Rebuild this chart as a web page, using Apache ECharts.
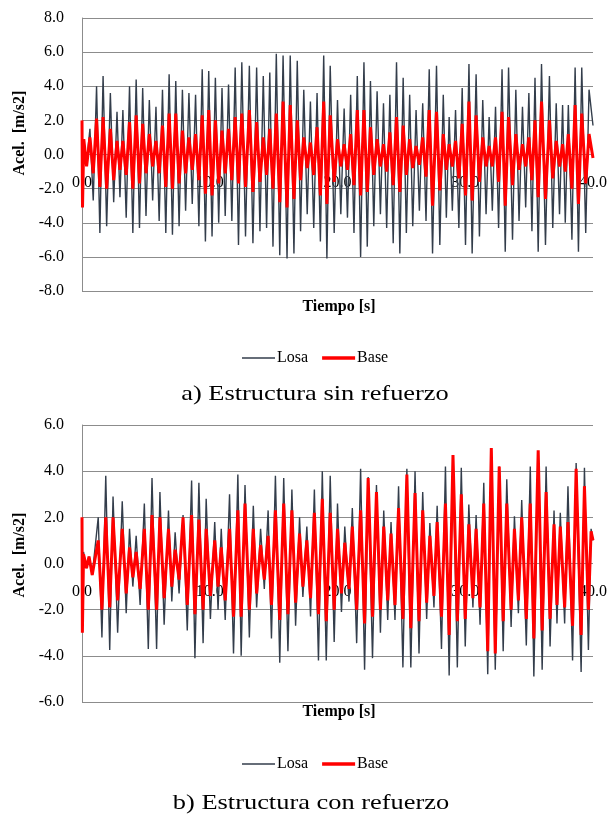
<!DOCTYPE html>
<html><head><meta charset="utf-8">
<script src="https://cdn.jsdelivr.net/npm/echarts@6/dist/echarts.min.js"></script>
<style>html,body{margin:0;padding:0;background:#fff}#c{width:610px;height:816px}</style>
</head><body><div id="c"></div>
<script>
// ---- Chart a) Estructura sin refuerzo : extremum times [s] and accelerations [m/s2]
const tA = [
0.00,0.04,0.14,0.36,0.62,0.88,1.14,1.40,1.65,1.93,
2.22,2.48,2.74,2.97,3.20,3.46,3.72,3.98,4.24,4.50,
4.75,5.01,5.27,5.53,5.79,6.04,6.30,6.56,6.82,7.08,
7.34,7.60,7.86,8.11,8.37,8.63,8.89,9.15,9.41,9.66,
9.92,10.18,10.44,10.70,10.96,11.21,11.47,11.73,11.99,12.25,
12.51,12.80,13.10,13.38,13.67,13.93,14.19,14.45,14.70,14.95,
15.21,15.48,15.74,16.05,16.30,16.59,16.85,17.11,17.36,17.63,
17.88,18.14,18.40,18.66,18.92,19.17,19.43,19.74,20.00,20.26,
20.52,20.78,21.03,21.29,21.55,21.81,22.07,22.33,22.58,22.84,
23.10,23.36,23.60,23.85,24.10,24.36,24.62,24.88,25.14,25.39,
25.65,25.89,26.15,26.41,26.67,26.93,27.18,27.44,27.75,28.01,
28.28,28.52,28.74,28.99,29.24,29.50,29.76,30.02,30.29,30.54,
30.85,31.11,31.37,31.63,31.87,32.12,32.37,32.61,32.88,33.13,
33.39,33.70,33.96,34.21,34.48,34.73,34.98,35.22,35.46,35.71,
35.97,36.28,36.59,36.85,37.12,37.38,37.62,37.83,38.07,38.35,
38.60,38.86,39.12,39.43,39.69,40.00];
const losaA = [
0.0,-0.2,0.3,-0.5,1.5,-2.7,4.0,-4.6,4.6,-4.2,
3.6,-2.8,2.5,-2.5,2.6,-3.7,4.0,-4.6,4.4,-4.3,
3.9,-3.6,3.2,-2.7,2.8,-3.9,3.8,-4.6,4.7,-4.7,
4.3,-4.2,3.8,-3.3,3.6,-2.9,3.5,-4.2,5.0,-5.1,
4.9,-4.8,4.5,-4.0,3.9,-3.6,4.1,-3.9,5.1,-5.3,
5.4,-4.8,5.2,-5.2,5.1,-4.5,4.6,-4.3,4.8,-5.4,
5.9,-5.9,5.8,-6.1,5.8,-5.8,5.5,-4.5,3.8,-3.5,
3.1,-4.3,3.6,-5.1,5.8,-6.1,5.2,-4.6,3.2,-3.5,
2.7,-3.7,3.5,-4.6,4.6,-6.0,5.4,-5.4,4.3,-4.2,
3.7,-3.5,3.0,-4.3,3.5,-5.2,5.4,-5.8,4.5,-4.6,
3.5,-4.2,2.6,-3.3,3.0,-3.9,5.0,-5.8,5.2,-5.3,
3.5,-3.7,2.2,-3.3,2.6,-4.3,3.9,-5.3,5.3,-5.8,
4.7,-4.8,3.2,-3.5,2.2,-3.3,2.8,-4.3,5.0,-5.7,
5.1,-5.0,3.8,-3.9,2.8,-3.1,3.6,-4.5,4.5,-5.7,
5.3,-5.3,4.6,-4.3,3.0,-3.5,2.9,-4.0,2.9,-5.0,
5.1,-5.7,5.1,-4.6,3.8,1.7];
const baseA = [
2.0,-3.1,0.9,-0.7,1.0,-1.1,2.1,-1.9,2.2,-2.0,
1.5,-1.5,0.8,-0.9,0.8,-1.2,1.9,-2.0,2.3,-1.7,
1.8,-1.1,1.2,-0.7,0.8,-1.1,1.7,-1.9,2.4,-2.0,
2.4,-1.7,1.4,-1.1,1.0,-0.9,1.2,-1.5,2.3,-2.3,
2.6,-2.4,2.0,-1.7,1.4,-1.1,1.5,-1.5,2.2,-1.7,
2.4,-1.9,2.6,-2.2,1.9,-1.6,1.0,-1.2,1.5,-2.0,
2.4,-2.8,3.1,-3.1,2.9,-2.6,2.0,-1.5,1.0,-0.8,
0.7,-1.2,1.6,-2.4,3.1,-2.9,2.3,-1.6,0.9,-0.7,
0.6,-0.9,1.2,-1.8,2.6,-2.4,2.6,-2.2,1.6,-1.2,
0.9,-0.7,0.6,-1.0,1.3,-1.8,2.2,-2.2,1.7,-1.2,
0.9,-0.8,0.5,-0.6,1.0,-1.3,2.6,-3.0,2.5,-2.1,
1.2,-0.9,0.6,-0.7,0.8,-1.4,1.8,-2.4,3.1,-2.7,
2.3,-1.6,1.0,-0.7,0.5,-0.7,1.0,-1.6,2.5,-3.0,
2.2,-1.8,1.2,-0.9,0.6,-0.7,1.0,-1.5,2.0,-2.5,
3.1,-2.6,2.0,-1.4,0.8,-0.7,0.6,-1.0,1.2,-2.0,
2.9,-2.9,2.4,-1.7,1.2,-0.2];

// ---- Chart b) Estructura con refuerzo
const tB = [
0.00,0.03,0.12,0.35,0.55,0.80,1.27,1.56,1.86,2.17,
2.43,2.79,3.15,3.46,3.72,3.98,4.24,4.55,4.88,5.19,
5.48,5.84,6.10,6.43,6.77,7.03,7.29,7.60,7.91,8.24,
8.58,8.84,9.15,9.48,9.72,10.05,10.39,10.65,10.90,11.21,
11.55,11.86,12.20,12.46,12.76,13.10,13.41,13.67,13.98,14.27,
14.57,14.83,15.14,15.48,15.79,16.12,16.43,16.72,17.03,17.29,
17.60,17.89,18.19,18.51,18.81,19.12,19.43,19.74,20.00,20.31,
20.57,20.90,21.16,21.50,21.81,22.12,22.40,22.74,23.05,23.36,
23.62,23.93,24.19,24.50,24.78,25.12,25.43,25.74,26.07,26.38,
26.67,26.98,27.23,27.55,27.80,28.14,28.45,28.74,29.04,29.38,
29.69,30.00,30.28,30.60,30.85,31.16,31.45,31.76,32.04,32.35,
32.66,32.97,33.25,33.59,33.85,34.16,34.42,34.78,35.09,35.37,
35.71,36.02,36.33,36.64,36.95,37.18,37.44,37.78,38.04,38.40,
38.68,39.07,39.33,39.64,39.85,40.00];
const losaB = [
0.0,-0.3,0.5,-0.2,0.3,-0.5,2.0,-3.2,3.8,-3.75,
2.9,-3.0,2.7,-2.15,1.5,-1.0,1.2,-1.8,2.6,-3.7,
3.7,-3.7,3.1,-2.65,2.3,-1.65,1.35,-1.3,2.1,-2.9,
3.6,-4.1,3.5,-3.45,2.8,-2.4,1.8,-2.0,1.5,-2.45,
3.0,-3.9,3.85,-4.0,3.4,-3.2,2.5,-1.9,1.5,-1.1,
2.3,-3.25,3.8,-4.3,3.7,-3.8,3.2,-2.7,2.0,-1.45,
1.6,-2.3,3.2,-4.2,4.0,-4.2,3.8,-3.4,2.6,-2.1,
1.6,-1.65,2.4,-3.45,4.1,-4.6,3.75,-4.1,3.4,-3.0,
2.3,-2.45,1.8,-2.45,3.35,-4.5,4.1,-4.5,4.0,-3.9,
3.1,-2.4,1.75,-1.9,2.5,-3.7,4.2,-4.85,4.65,-4.5,
4.15,-3.6,2.55,-1.9,2.1,-2.65,3.5,-4.8,4.95,-4.6,
4.2,-3.8,3.65,-2.75,2.05,-2.15,2.75,-3.55,4.2,-4.9,
4.85,-4.6,4.2,-3.6,2.3,-2.6,2.2,-2.6,3.35,-4.2,
4.35,-4.7,4.15,-3.75,1.5,1.0];
const baseB = [
2.0,-3.0,0.4,-0.2,0.3,-0.5,1.0,-2.0,2.0,-1.9,
2.0,-1.6,1.5,-1.3,0.7,-0.6,0.5,-1.1,1.5,-2.0,
2.1,-2.0,2.0,-1.5,1.5,-1.0,0.6,-0.7,2.0,-1.8,
2.1,-2.2,1.9,-2.0,1.5,-1.4,1.0,-1.0,0.7,-1.6,
1.5,-2.3,2.3,-2.3,2.6,-2.0,1.5,-1.3,0.8,-0.7,
1.2,-1.8,2.3,-2.45,2.6,-2.2,2.3,-1.7,1.3,-1.0,
1.0,-1.5,2.2,-2.2,2.8,-2.5,2.2,-2.0,1.5,-1.3,
0.9,-1.1,1.6,-2.0,2.3,-2.6,3.7,-2.3,3.1,-2.0,
1.6,-1.6,1.3,-1.8,2.4,-2.4,3.85,-2.8,3.05,-2.5,
2.3,-1.7,1.2,-1.4,1.8,-2.3,2.6,-3.1,4.7,-2.5,
3.0,-2.4,1.7,-1.5,1.5,-1.9,2.6,-3.8,5.0,-3.9,
4.2,-2.5,2.6,-2.0,1.5,-1.6,2.0,-2.4,2.6,-3.25,
4.9,-2.9,3.1,-2.4,1.7,-1.8,1.6,-1.9,1.8,-2.7,
4.1,-3.1,3.35,-2.0,1.4,1.0];

const seriesNames = ['Losa', 'Base'];
const xTickStep = 10;
const yRangeA = [-8, 8];
const yRangeB = [-6, 6];

const pairs = (t, v) => t.map((x, i) => [x, v[i]]);
const SERIF = '"Liberation Serif", "Times New Roman", serif';
const GRIDC = '#8c8c8c';
const LOSA_C = '#333d4b';
const BASE_C = '#ff0000';

// grid geometry
const G = [
  { left: 82, top: 18, width: 516, height: 273 },
  { left: 82, top: 425, width: 516, height: 277 }
];
const ranges = [yRangeA, yRangeB];
// distance (px) from the bottom of each plot to its zero line, used to seat the time labels on y = 0
const zeroOffset = gi => -G[gi].height * (0 - ranges[gi][0]) / (ranges[gi][1] - ranges[gi][0]);

function xAx(gi) {
  return {
    gridIndex: gi, type: 'value', min: 0, max: 40, interval: xTickStep,
    position: 'bottom', offset: zeroOffset(gi),
    axisLine: { show: false, onZero: false },
    axisTick: { show: false },
    splitLine: { show: false },
    axisLabel: { formatter: v => v.toFixed(1), margin: 20, color: '#000',
                 fontFamily: SERIF, fontSize: 16, showMinLabel: true, showMaxLabel: true,
                 hideOverlap: false }
  };
}
function yAx(gi, r) {
  return {
    gridIndex: gi, type: 'value', min: r[0], max: r[1], interval: 2,
    axisLine: { show: true, onZero: false, lineStyle: { color: GRIDC, width: 1 } },
    axisTick: { show: false },
    splitLine: { show: true, lineStyle: { color: GRIDC, width: 1 } },
    axisLabel: { formatter: v => v.toFixed(1), margin: 18, color: '#000', fontFamily: SERIF, fontSize: 16 }
  };
}
function ser(name, gi, t, v, color, w, z) {
  return { name, type: 'line', xAxisIndex: gi, yAxisIndex: gi, data: pairs(t, v),
           symbol: 'none', showSymbol: false, smooth: false, animation: false, z,
           lineStyle: { color, width: w }, itemStyle: { color } };
}
function legend(top) {
  return { top, left: 237, itemWidth: 33, itemHeight: 14, itemGap: 14, selectedMode: false,
           symbolKeepAspect: true,
           data: [
             { name: seriesNames[0], icon: 'path://M0,0H33V1.4H0Z', itemStyle: { color: LOSA_C, borderWidth: 0 } },
             { name: seriesNames[1], icon: 'path://M0,0H33V3.6H0Z', itemStyle: { color: BASE_C, borderWidth: 0 } }
           ],
           textStyle: { fontFamily: SERIF, fontSize: 16, color: '#000', padding: [0, 0, 0, -3] } };
}
function txt(x, y, text, font, extra) {
  return Object.assign({ type: 'text', x, y, silent: true,
    style: { text, font, fill: '#000', align: 'center', verticalAlign: 'middle' } }, extra || {});
}
const chart = echarts.init(document.getElementById('c'), null, { renderer: 'canvas', width: 610, height: 816 });
chart.setOption({
  animation: false,
  backgroundColor: '#fff',
  grid: G,
  xAxis: [xAx(0), xAx(1)],
  yAxis: [yAx(0, yRangeA), yAx(1, yRangeB)],
  legend: [legend(345), legend(751)],
  series: [
    ser(seriesNames[0], 0, tA, losaA, LOSA_C, 1.4, 2),
    ser(seriesNames[1], 0, tA, baseA, BASE_C, 3, 3),
    ser(seriesNames[0], 1, tB, losaB, LOSA_C, 1.4, 2),
    ser(seriesNames[1], 1, tB, baseB, BASE_C, 3, 3)
  ],
  graphic: [
    txt(20, 133, 'Acel.  [m/s2]', 'bold 16px ' + SERIF, { rotation: Math.PI / 2 }),
    txt(20, 555, 'Acel.  [m/s2]', 'bold 16px ' + SERIF, { rotation: Math.PI / 2 }),
    txt(339, 307, 'Tiempo [s]', 'bold 16px ' + SERIF),
    txt(339, 712, 'Tiempo [s]', 'bold 16px ' + SERIF),
    txt(315, 394, 'a) Estructura sin refuerzo', '22px ' + SERIF, { scaleX: 1.2 }),
    txt(311, 803, 'b) Estructura con refuerzo', '22px ' + SERIF, { scaleX: 1.2 })
  ]
});
</script></body></html>
